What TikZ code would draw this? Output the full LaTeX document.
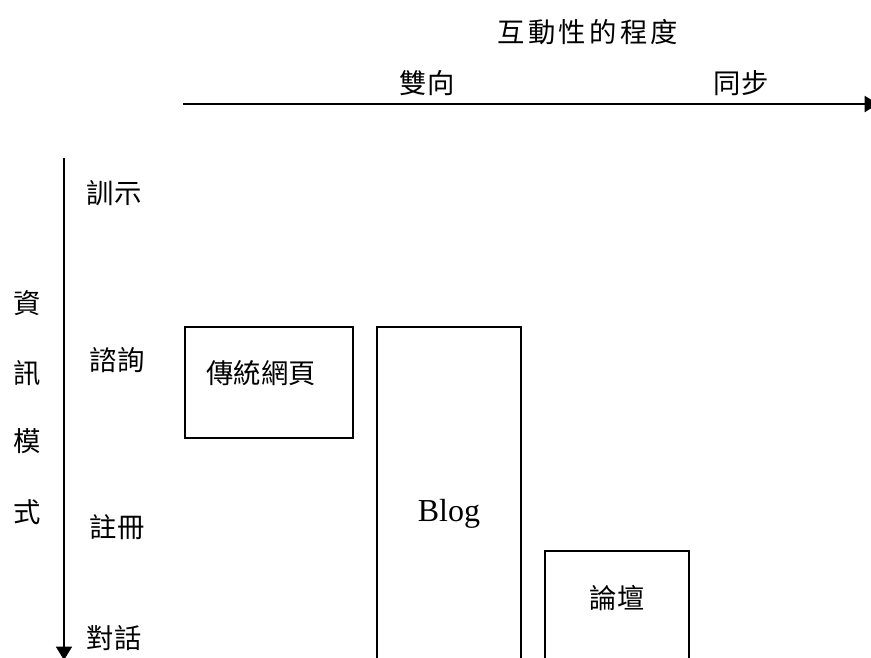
\documentclass[tikz,border=0pt]{standalone}
\usepackage{fontspec}
\setmainfont{Liberation Serif}
\newfontfamily\cjk{Noto Sans CJK TC}
\usetikzlibrary{arrows.meta}
\begin{document}
\begin{tikzpicture}[x=0.75pt,y=-0.75pt,
  cjklbl/.style={font=\cjk\fontsize{20.5}{24}\selectfont, inner sep=0pt},
  frame/.style={line width=1.5pt},
  axis/.style={line width=1.5pt,-{Triangle[width=12pt,length=10pt]}}]
\useasboundingbox (0,0) rectangle (871,657);
\clip (0,0) rectangle (871,657);
% titles
\node[cjklbl] (title) at (588,32) {互\kern2.5pt 動\kern2.5pt 性\kern2.5pt 的\kern2.5pt 程\kern2.5pt 度};
\node[cjklbl] (shuang) at (427,83) {雙向};
\node[cjklbl] (tong) at (741,83) {同步};
% horizontal axis
\coordinate (hs) at (183,104);
\coordinate (he) at (878,104);
\draw[axis] (hs) -- (he);
% vertical axis
\coordinate (vs) at (64,158);
\coordinate (ve) at (64,660);
\draw[axis,line width=1.1pt] (vs) -- (ve);
% vertical labels
\node[cjklbl] (xun) at (114,193) {訓示};
\node[cjklbl] (zi) at (117,360) {諮詢};
\node[cjklbl] (zhu) at (117,527) {註冊};
\node[cjklbl] (dui) at (114,638) {對話};
% left label
\node[cjklbl] (c1) at (27,303) {資};
\node[cjklbl] (c2) at (27,373) {訊};
\node[cjklbl] (c3) at (27,441) {模};
\node[cjklbl] (c4) at (27,512) {式};
% boxes
\draw[frame] (185,327) rectangle (353,438);
\node[cjklbl] (web) at (261,373) {傳統網頁};
\draw[frame] (377,660) -- (377,327) -- (521,327) -- (521,660);
\node[font=\fontsize{24}{28}\selectfont, inner sep=0pt, anchor=base] (blog) at (449,521) {Blog};
\draw[frame] (545,660) -- (545,551) -- (689,551) -- (689,660);
\node[cjklbl] (forum) at (617,598) {論壇};
\end{tikzpicture}
\end{document}
